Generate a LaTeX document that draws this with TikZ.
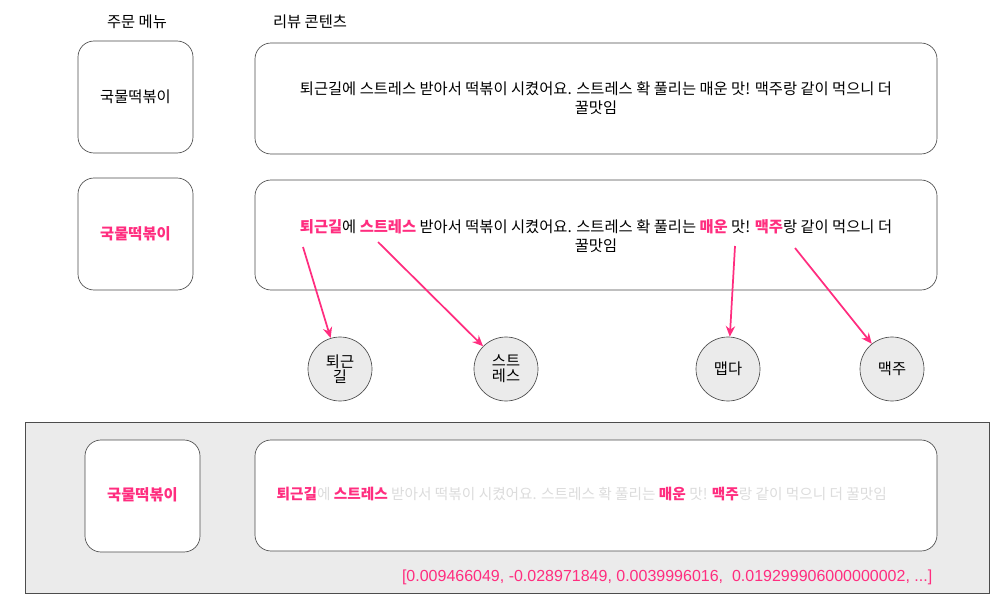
\documentclass[tikz,border=0pt]{standalone}
\usepackage{fontspec}
\setmainfont{Noto Sans CJK KR}
\newfontfamily\arial{Liberation Sans}
\usetikzlibrary{arrows.meta}
\definecolor{pk}{HTML}{FF2D7F}
\definecolor{fade}{HTML}{DCDCDC}
\begin{document}
\begin{tikzpicture}[x=0.75pt,y=-0.75pt,font=\fontsize{11.5pt}{14pt}\selectfont,
  box/.style={draw=black!70,rounded corners=12pt,fill=white,line width=0.5pt},
  circ/.style={draw=black!70,circle,fill=black!8,minimum size=48pt,inner sep=0pt,align=center,line width=0.5pt},
  arr/.style={draw=pk,line width=1.3pt,-{Stealth[length=8pt,width=7pt]}}]
\useasboundingbox (0,0) rectangle (1002,606);
\node (h1) at (137,22) {주문 메뉴};
\node (h2) at (310,22) {리뷰 콘텐츠};
% row 1
\draw[box] (78,41) rectangle (193,153);
\node (m1) at (135.5,97) {국물떡볶이};
\draw[box] (255,43) rectangle (937,154);
\node[align=center] (r1) at (596,98) {퇴근길에 스트레스 받아서 떡볶이 시켰어요. 스트레스 확 풀리는 매운 맛! 맥주랑 같이 먹으니 더\\꿀맛임};
% row 2
\draw[box] (78,178) rectangle (193,290);
\node[text=pk,font=\fontsize{11.5pt}{14pt}\selectfont\bfseries] (m2) at (135.5,234) {국물떡볶이};
\draw[box] (255,180) rectangle (937,290);
\node[align=center] (r2) at (596,236) {{\bfseries\color{pk}퇴근길}에 {\bfseries\color{pk}스트레스} 받아서 떡볶이 시켰어요. 스트레스 확 풀리는 {\bfseries\color{pk}매운} 맛! {\bfseries\color{pk}맥주}랑 같이 먹으니 더\\꿀맛임};
\node[circ] (c1) at (340,369) {퇴근\\[-3pt]길};
\node[circ] (c2) at (506,369) {스트\\[-3pt]레스};
\node[circ] (c3) at (728,369) {맵다};
\node[circ] (c4) at (892,369) {맥주};
\coordinate (s1) at (303,247);
\coordinate (s2) at (378,242);
\coordinate (s3) at (735,246);
\coordinate (s4) at (795,248);
\draw[arr] (s1) -- (c1);
\draw[arr] (s2) -- (c2);
\draw[arr] (s3) -- (c3);
\draw[arr] (s4) -- (c4);
% panel
\draw[draw=black!70,fill=black!8,line width=0.5pt] (25,422) rectangle (989,593);
\draw[box] (85,440) rectangle (200,552);
\node[text=pk,font=\fontsize{11.5pt}{14pt}\selectfont\bfseries] (m3) at (142.5,495) {국물떡볶이};
\draw[box] (255,440) rectangle (937,551);
\node[anchor=west,text=fade,font=\fontsize{11pt}{14pt}\selectfont] (r3) at (272,494) {{\bfseries\color{pk}퇴근길}에 {\bfseries\color{pk}스트레스} 받아서 떡볶이 시켰어요. 스트레스 확 풀리는 {\bfseries\color{pk}매운} 맛! {\bfseries\color{pk}맥주}랑 같이 먹으니 더 꿀맛임};
\node[anchor=east,text=pk,font=\arial\fontsize{12pt}{14pt}\selectfont] (v) at (937,577) {[0.009466049, -0.028971849, 0.0039996016,\ \ 0.019299906000000002, ...]};
\end{tikzpicture}
\end{document}
